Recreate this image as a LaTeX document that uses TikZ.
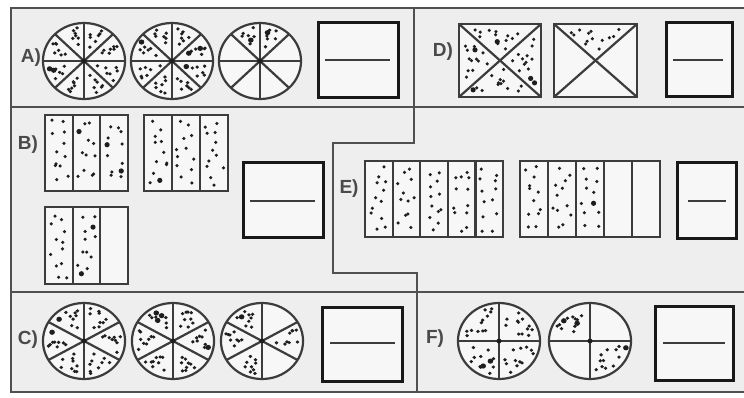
\documentclass[tikz,border=0pt]{standalone}
\usepackage{fontspec}
\setmainfont{Liberation Sans}
\usetikzlibrary{calc}
\definecolor{bgc}{HTML}{EEEEEE}
\definecolor{shp}{HTML}{F7F7F7}
\definecolor{lnc}{HTML}{3C3C3C}
\definecolor{frc}{HTML}{505050}
\definecolor{ansc}{HTML}{181818}
\definecolor{dotc}{HTML}{1E1E1E}
\definecolor{labc}{HTML}{4A4A4A}
\tikzset{
 frameline/.style={draw=frc,line width=2.2pt},
 shapeline/.style={draw=lnc,line width=2.2pt},
 ansbox/.style={draw=ansc,line width=3pt,fill=shp},
 ansline/.style={draw=lnc,line width=2.2pt},
 lab/.style={text=labc,font=\bfseries\fontsize{19}{19}\selectfont,inner sep=0pt},
}
% Wichmann-Hill random generator
\newcount\rsA \newcount\rsB \newcount\rsC \newcount\rtmp \newcount\rtmpb
\global\rsA=1234 \global\rsB=5678 \global\rsC=9012
\def\wstep#1#2#3{\rtmp=#1 \multiply\rtmp by #2 \global#1=\rtmp
 \divide\rtmp by #3 \multiply\rtmp by #3 \global\advance#1 by -\rtmp}
\newcommand\myrand[1]{\wstep\rsA{171}{30269}\wstep\rsB{172}{30307}\wstep\rsC{170}{30323}%
 \rtmp=\numexpr \rsA*10000/30269 + \rsB*10000/30307 + \rsC*10000/30323\relax
 \rtmpb=\rtmp \divide\rtmpb by 10000 \multiply\rtmpb by 10000 \advance\rtmp by -\rtmpb
 \pgfmathsetmacro#1{\the\rtmp/10000}}
% pie: cx, cy, diameter angles, dotted sectors (a/b), dots per sector
\newcommand\pie[5]{%
 \begin{scope}[shift={(#1,#2)},xscale=1.08]
  \fill[shp] (0,0) circle (38);
  \foreach \sa/\sb in {#4}{%
   \foreach \k in {1,...,#5}{%
    \myrand\ua\myrand\ub\myrand\uc
    \pgfmathsetmacro\dR{\uc<0.07?2.6:1.75}%
    \pgfmathsetmacro\rR{38*(0.3+0.6*sqrt((\k-1+\ub)/#5))}%
    \pgfmathsetmacro\mg{min(20,deg(5/\rR))}%
    \pgfmathsetmacro\aA{\sa+\mg+(\sb-\sa-2*\mg)*\ua}%
    \fill[dotc] ({-\aA}:\rR) circle (\dR);
   }}
  \foreach \d in {#3}{\draw[shapeline] ({-\d}:38) -- ({180-\d}:38);}
  \draw[shapeline] (0,0) circle (38);
  \fill[dotc] (0,0) circle (2.4);
 \end{scope}}
% column rectangle: x0 y0 x1 y1 ncols ndotted rows (two dots per row)
\newcommand\cols[7]{%
 \fill[shp] (#1,#2) rectangle (#3,#4);
 \pgfmathsetmacro\cw{(#3-#1)/#5}
 \foreach \i in {1,...,#6}{%
  \foreach \k in {1,...,#7}{%
   \foreach \j in {0,1}{%
    \myrand\ua\myrand\ub\myrand\uc
    \pgfmathsetmacro\dR{\uc<0.06?2.6:1.75}%
    \pgfmathsetmacro\dY{#2+5+(#4-#2-10)*(\k-1+\ub)/#7}%
    \pgfmathsetmacro\dX{#1+(\i-1)*\cw+4.5+(\cw-9)*(\j+\ua)/2}%
    \fill[dotc] (\dX,\dY) circle (\dR);
  }}}
 \pgfmathtruncatemacro\nm{#5-1}
 \foreach \i in {1,...,\nm}{\draw[shapeline] ({#1+\i*\cw},#2) -- ({#1+\i*\cw},#4);}
 \draw[shapeline] (#1,#2) rectangle (#3,#4);
}
% triangle dots: apex cx cy, base p q, n
\newcommand\tri[7]{%
 \foreach \k in {1,...,#7}{%
  \myrand\ua\myrand\ub\myrand\uc
  \pgfmathsetmacro\dR{\uc<0.07?2.6:1.75}%
  \pgfmathsetmacro\rT{0.22+0.64*sqrt((\k-1+\ub)/#7)}%
  \pgfmathsetmacro\mS{min(0.45,6/(\rT*veclen(#5-#3,#6-#4)))}%
  \pgfmathsetmacro\rS{\mS+(1-2*\mS)*\ua}%
  \pgfmathsetmacro\dX{#1+\rT*(#3+\rS*(#5-#3)-#1)}%
  \pgfmathsetmacro\dY{#2+\rT*(#4+\rS*(#6-#4)-#2)}%
  \fill[dotc] (\dX,\dY) circle (\dR);
 }}
% crossed square: x0 y0 x1 y1, dots top right bottom left
\newcommand\xsq[8]{%
 \fill[shp] (#1,#2) rectangle (#3,#4);
 \pgfmathsetmacro\cX{(#1+#3)/2}\pgfmathsetmacro\cY{(#2+#4)/2}%
 \ifnum#5>0 \tri{\cX}{\cY}{#1}{#2}{#3}{#2}{#5}\fi
 \ifnum#6>0 \tri{\cX}{\cY}{#3}{#2}{#3}{#4}{#6}\fi
 \ifnum#7>0 \tri{\cX}{\cY}{#3}{#4}{#1}{#4}{#7}\fi
 \ifnum#8>0 \tri{\cX}{\cY}{#1}{#4}{#1}{#2}{#8}\fi
 \draw[shapeline] (#1,#2) -- (#3,#4) (#3,#2) -- (#1,#4);
 \draw[shapeline] (#1,#2) rectangle (#3,#4);
}
% answer box: x0 y0 x1 y1 lx0 ly lx1
\newcommand\ans[7]{\draw[ansbox] (#1,#2) rectangle (#3,#4); \draw[ansline] (#5,#6) -- (#7,#6);}

\begin{document}
\begin{tikzpicture}[x=1pt,y=-1pt]
\useasboundingbox (0,0) rectangle (744,398);
\fill[white] (0,0) rectangle (744,398);
\fill[bgc] (11,8) rectangle (744,392);
% frame
\draw[frameline] (744,8) -- (11,8) -- (11,392) -- (744,392);
\draw[frameline] (11,107) -- (744,107);
\draw[frameline] (11,292) -- (744,292);
\draw[frameline] (414,8) -- (414,143) -- (333,143) -- (333,273) -- (417,273) -- (417,392);

% A
\pie{84}{61}{0,45,90,135}{0/45,45/90,90/135,135/180,180/225,225/270,270/315,315/360}{7}
\pie{172}{61}{0,45,90,135}{0/45,45/90,90/135,135/180,180/225,225/270,270/315,315/360}{7}
\pie{260}{61}{0,45,90,135}{45/90,90/135}{7}
\ans{318}{23}{398}{98}{325}{60}{390}
\node[lab] (la) at (31,58) {A)};

% D
\xsq{459}{24}{541}{97}{13}{13}{13}{13}
\xsq{554}{24}{637}{97}{13}{0}{0}{0}
\ans{666}{23}{732}{97}{673}{60}{723}
\node[lab] (ld) at (443,52) {D)};

% B
\cols{45}{115}{128}{191}{3}{3}{6}
\cols{144}{115}{228}{191}{3}{3}{6}
\cols{45}{207}{128}{284}{3}{2}{6}
\ans{243}{163}{323}{237}{250}{201}{315}
\node[lab] (lb) at (28,145) {B)};

% E
\cols{365}{161}{503}{237}{5}{5}{6}
\cols{520}{161}{660}{237}{5}{3}{6}
\ans{677}{163}{736}{238}{688}{201}{726}
\node[lab] (le) at (349,189) {E)};

% C
\pie{84}{341}{30,90,150}{-30/30,30/90,90/150,150/210,210/270,270/330}{9}
\pie{173}{341}{30,90,150}{-30/30,30/90,90/150,150/210,210/270,270/330}{9}
\pie{262}{341}{30,90,150}{-30/30,90/150,150/210,210/270}{9}
\ans{322}{307}{402}{381}{330}{343}{395}
\node[lab] (lc) at (28,340) {C)};

% F
\pie{499}{341}{0,90}{0/90,90/180,180/270,270/360}{12}
\pie{590}{341}{0,90}{90/180,270/360}{12}
\ans{655}{306}{733}{380}{663}{343}{725}
\node[lab] (lf) at (435,339) {F)};
\end{tikzpicture}
\end{document}
